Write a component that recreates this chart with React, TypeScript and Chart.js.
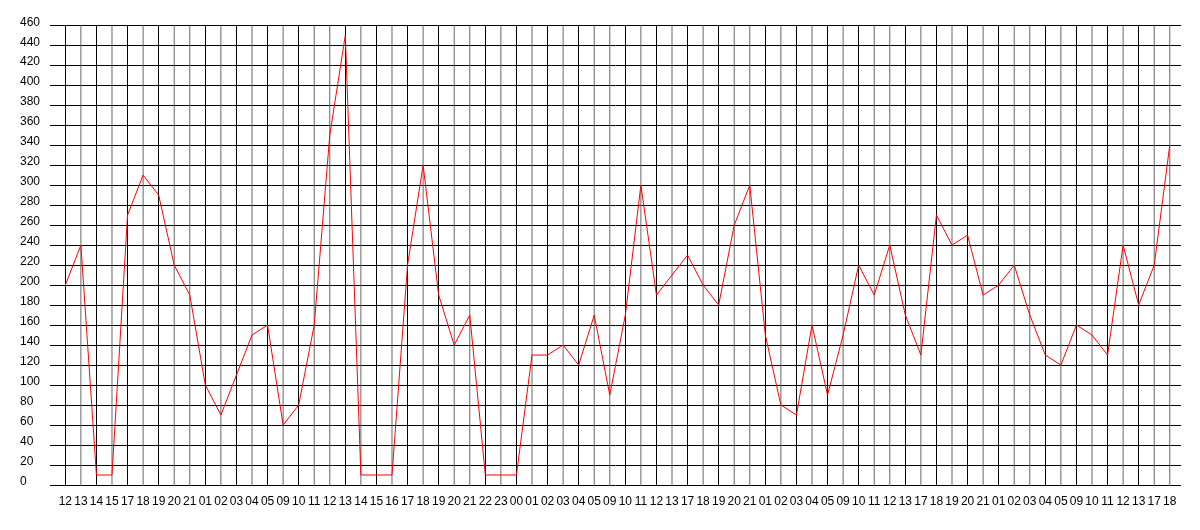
import React, { useEffect, useRef } from "react";
import { Chart, registerables } from "chart.js";

Chart.register(...registerables);

const xLabels = [
  "12", "13", "14", "15", "17", "18", "19", "20", "21", "01", "02", "03", "04", "05", "09", "10", "11", "12",
  "13", "14", "15", "16", "17", "18", "19", "20", "21", "22", "23", "00", "01", "02", "03", "04", "05", "09",
  "10", "11", "12", "13", "17", "18", "19", "20", "21", "01", "02", "03", "04", "05", "09", "10", "11", "12",
  "13", "17", "18", "19", "20", "21", "01", "02", "03", "04", "05", "09", "10", "11", "12", "13", "17", "18",
];

const values = [
  200, 240, 10, 10, 270, 310, 290, 220, 190, 100, 70, 110, 150, 160, 60, 80, 160, 350,
  450, 10, 10, 10, 220, 320, 190, 140, 170, 10, 10, 10, 130, 130, 140, 120, 170, 90,
  170, 300, 190, 210, 230, 200, 180, 260, 300, 150, 80, 70, 160, 90, 150, 220, 190, 240,
  170, 130, 270, 240, 250, 190, 200, 220, 170, 130, 120, 160, 150, 130, 240, 180, 220, 340,
];

const yTicks = [0, 20, 40, 60, 80, 100, 120, 140, 160, 180, 200, 220, 240, 260, 280, 300, 320, 340, 360, 380, 400, 420, 440, 460];

const FONT = { family: "'Liberation Sans', Arial, sans-serif", size: 12 };

// Vertical grid lines at every category, rendered like the reference's
// anti-aliased lines: crisp black when near a pixel centre, soft grey otherwise.
const verticalGrid = {
  id: "verticalGrid",
  beforeDatasetsDraw(chart: any) {
    const { ctx, chartArea, scales } = chart;
    const xs = scales.x;
    ctx.save();
    ctx.lineWidth = 1;
    xLabels.forEach((_, i) => {
      const x = xs.getPixelForValue(i);
      const frac = x - Math.floor(x);
      const d = Math.abs(frac - 0.5);
      ctx.beginPath();
      if (d < 0.25) {
        const px = Math.floor(x) + 0.5;
        ctx.strokeStyle = "#000";
        ctx.moveTo(px, chartArea.top);
        ctx.lineTo(px, chartArea.bottom + 1);
      } else {
        ctx.strokeStyle = "#666";
        ctx.moveTo(x, chartArea.top);
        ctx.lineTo(x, chartArea.bottom + 1);
      }
      ctx.stroke();
    });
    ctx.restore();
  },
};

export default function App() {
  const ref = useRef<HTMLCanvasElement | null>(null);

  useEffect(() => {
    if (!ref.current) return;
    const chart = new Chart(ref.current, {
      type: "line",
      data: {
        datasets: [
          {
            data: values.map((v, i) => ({ x: i, y: v })),
            borderColor: "#ff0000",
            borderWidth: 1,
            pointRadius: 0,
            tension: 0,
            fill: false,
          },
        ],
      },
      options: {
        animation: false,
        responsive: true,
        maintainAspectRatio: false,
        layout: { padding: { left: 12, right: 11, top: 17, bottom: 0 } },
        plugins: { legend: { display: false }, tooltip: { enabled: false } },
        scales: {
          x: {
            type: "linear",
            min: -0.9857,
            max: 71.7214,
            afterBuildTicks: (scale: any) => {
              scale.ticks = xLabels.map((_, i) => ({ value: i }));
            },
            afterFit: (scale: any) => {
              scale.height = 37;
            },
            grid: { display: false, drawTicks: false },
            border: { display: false },
            ticks: {
              autoSkip: false,
              maxRotation: 0,
              minRotation: 0,
              padding: 9,
              color: "#000",
              font: FONT,
              callback: (v: any) => xLabels[v] ?? "",
            },
          },
          y: {
            min: 0,
            max: 460,
            afterBuildTicks: (scale: any) => {
              scale.ticks = yTicks.map((v) => ({ value: v }));
            },
            afterFit: (scale: any) => {
              scale.width = 30;
            },
            grid: { color: "#000", lineWidth: 1, drawTicks: false },
            border: { display: false },
            ticks: {
              crossAlign: "far",
              padding: 10,
              labelOffset: -3,
              color: "#000",
              font: FONT,
            },
          },
        },
      },
      plugins: [verticalGrid],
    });
    return () => chart.destroy();
  }, []);

  return (
    <div style={{ width: 1184, height: 514, position: "relative" }}>
      <canvas ref={ref} />
    </div>
  );
}
